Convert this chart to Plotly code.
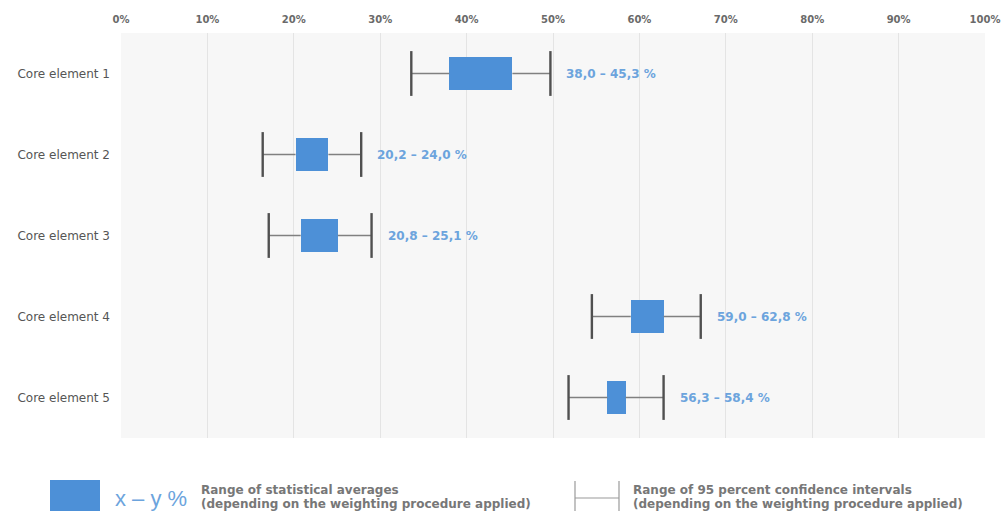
import plotly.graph_objects as go

categories = ["Core element 1", "Core element 2", "Core element 3", "Core element 4", "Core element 5"]
avg_low = [38.0, 20.2, 20.8, 59.0, 56.3]
avg_high = [45.3, 24.0, 25.1, 62.8, 58.4]
ci_low = [33.6, 16.4, 17.1, 54.5, 51.8]
ci_high = [49.7, 27.8, 29.0, 67.1, 62.8]
x_ticks = [0, 10, 20, 30, 40, 50, 60, 70, 80, 90, 100]

BLUE = "#4d90d7"
LBLUE = "#6ca4dd"
DARK = "#505050"
MID = "#808080"
TXT = "#6a6a6a"
LEG = "#777777"

fig = go.Figure()

# connecting whisker lines
lx, ly = [], []
for c, a, b, lo, hi in zip(categories, avg_low, avg_high, ci_low, ci_high):
    lx += [lo, a, None, b, hi, None]
    ly += [c, c, None, c, c, None]
fig.add_trace(go.Scatter(x=lx, y=ly, mode="lines", line=dict(color=MID, width=1.6),
                         hoverinfo="skip", showlegend=False))

# boxes (range of averages)
fig.add_trace(go.Bar(y=categories, x=[h - l for l, h in zip(avg_low, avg_high)], base=avg_low,
                     orientation="h", width=0.4, marker=dict(color=BLUE, line=dict(width=0)),
                     showlegend=False))

# caps
fig.add_trace(go.Scatter(x=ci_low + ci_high, y=categories + categories, mode="markers",
                         marker=dict(symbol="line-ns", size=32, line=dict(color=DARK, width=2.4)),
                         hoverinfo="skip", showlegend=False))

for c, a, b, hi in zip(categories, avg_low, avg_high, ci_high):
    txt = f"{a:.1f} – {b:.1f} %".replace(".", ",")
    fig.add_annotation(x=hi, y=c, text=txt, xanchor="left", xshift=14, showarrow=False,
                       font=dict(family="DejaVu Sans", size=12, color=LBLUE, weight="bold"))

# legend (paper coordinates; page pixels -> paper)
H = 405.0
W = 864.0
def px(x):
    return (x - 121) / W
def py(y):
    return (438 - y) / H

fig.add_shape(type="rect", xref="paper", yref="paper", x0=px(50), x1=px(100), y0=py(480), y1=py(520),
              fillcolor=BLUE, line=dict(width=0))
fig.add_annotation(xref="paper", yref="paper", x=px(113), y=py(498), text="x – y %", showarrow=False,
                   xanchor="left", yanchor="middle",
                   font=dict(family="Liberation Sans", size=22, color=LBLUE))

legend_lines = [
    (199, ["Range of statistical averages", "(depending on the weighting procedure applied)"]),
    (631, ["Range of 95 percent confidence intervals", "(depending on the weighting procedure applied)"]),
]
for xx, lines in legend_lines:
    for i, t in enumerate(lines):
        fig.add_annotation(xref="paper", yref="paper", x=px(xx), y=py(490 + 14 * i), text=t,
                           showarrow=False, xanchor="left", yanchor="middle", align="left",
                           font=dict(family="DejaVu Sans", size=12, color=LEG, weight="bold"))

for xx in (575, 619):
    fig.add_shape(type="line", xref="paper", yref="paper", x0=px(xx), x1=px(xx), y0=py(481), y1=py(520),
                  line=dict(color="#9a9a9a", width=1.2))
fig.add_shape(type="line", xref="paper", yref="paper", x0=px(575), x1=px(619), y0=py(498), y1=py(498),
              line=dict(color="#9a9a9a", width=1.2))

fig.update_layout(
    width=1002, height=511,
    margin=dict(l=121, r=17, t=33, b=73, autoexpand=False),
    paper_bgcolor="white",
    plot_bgcolor="#f7f7f7",
    showlegend=False,
    bargap=0,
    xaxis=dict(side="top", range=[0, 100], tickvals=x_ticks, automargin=False,
               ticktext=[f"{t}%" for t in x_ticks], showgrid=True, gridcolor="#e4e4e4", gridwidth=1,
               zeroline=False, showline=False, ticks="", ticklabelstandoff=7,
               ticklabeloverflow="allow",
               tickfont=dict(family="DejaVu Sans", size=10, color=TXT, weight="bold"), fixedrange=True),
    yaxis=dict(type="category", categoryorder="array", categoryarray=categories, automargin=False,
               range=[4.5, -0.5], showgrid=False, zeroline=False, showline=False, ticks="",
               ticklabelstandoff=10,
               tickfont=dict(family="DejaVu Sans", size=12, color="#555555")),
)

fig.write_html("out.html", config={"displayModeBar": False},
               post_script="document.body.style.margin='0';document.body.style.overflow='hidden';")
